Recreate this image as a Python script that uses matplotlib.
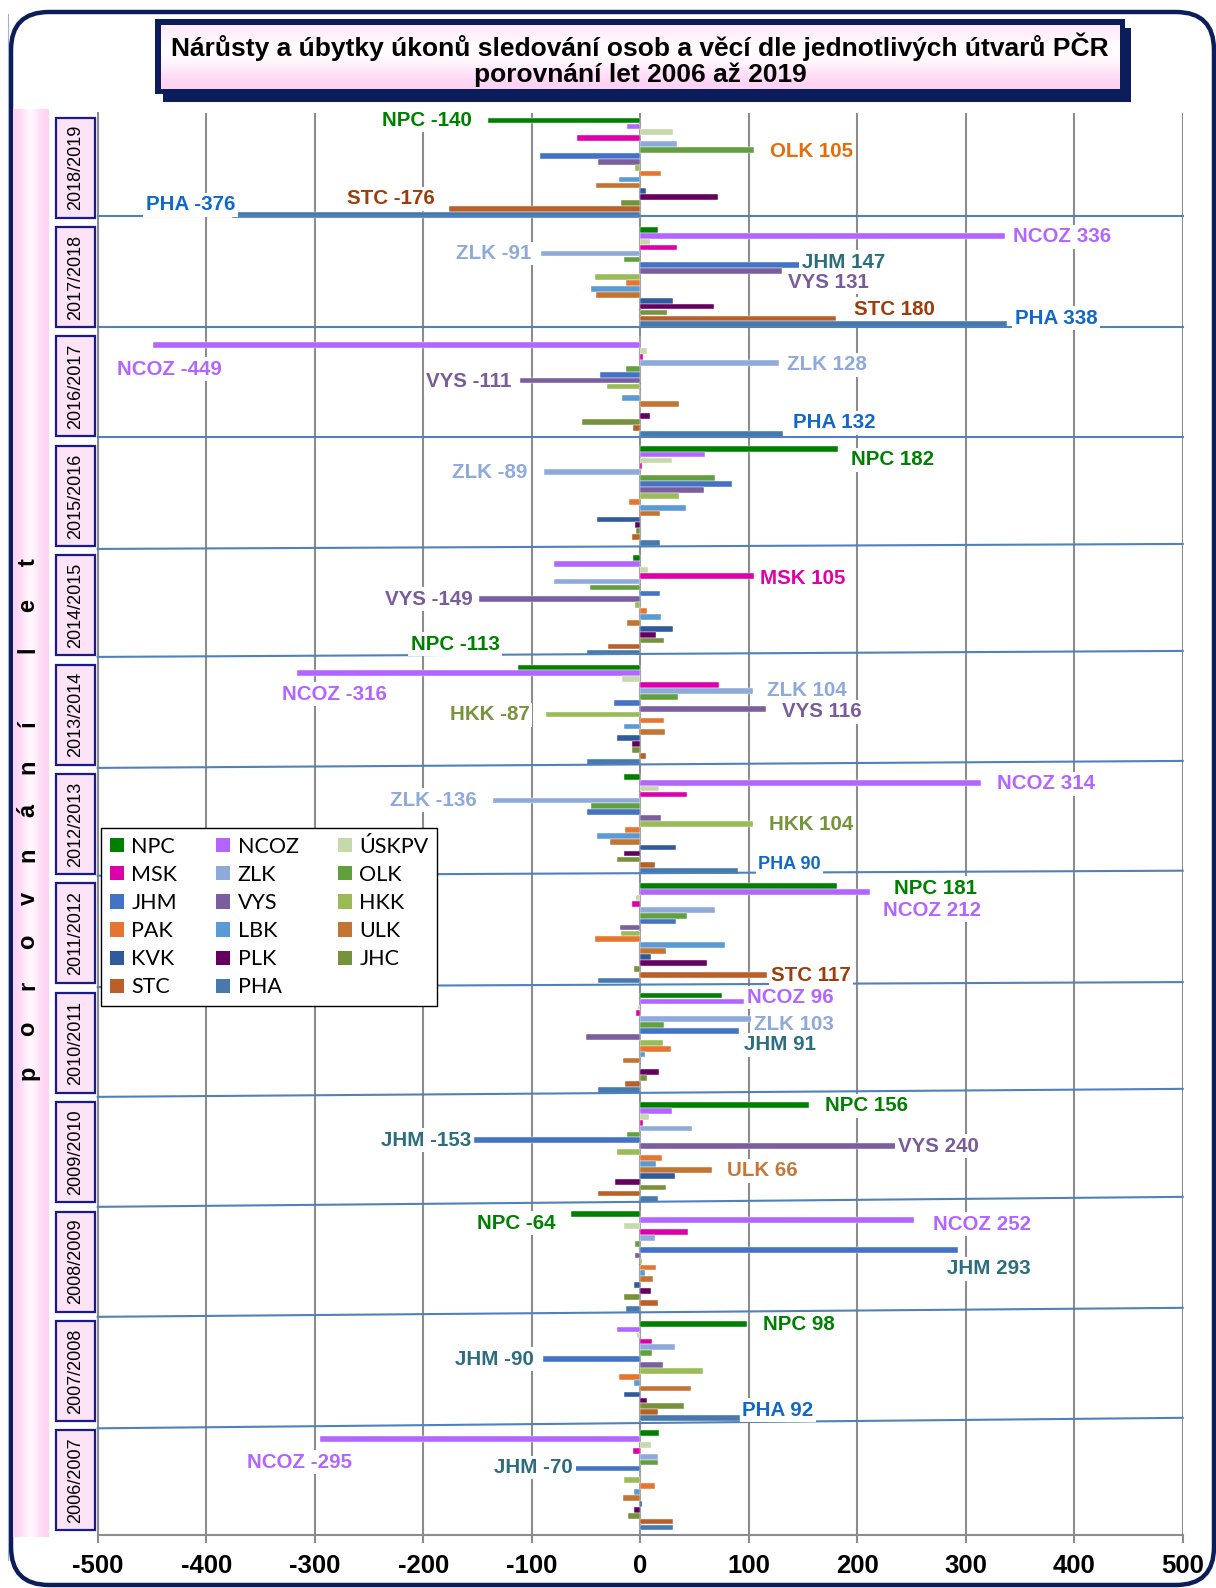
# ==========================================================
# NARUSTY A UBYTKY UKONU SLEDOVANI - UTVARY PCR 2006-2019
# ==========================================================

import numpy as np
import matplotlib.pyplot as plt
from matplotlib.patches import Rectangle, FancyBboxPatch

plt.rcParams["axes.unicode_minus"] = False

# ==========================================================
# DATA
# ==========================================================

years = [
    "2006/2007", "2007/2008", "2008/2009", "2009/2010", "2010/2011",
    "2011/2012", "2012/2013", "2013/2014", "2014/2015", "2015/2016",
    "2016/2017", "2017/2018", "2018/2019"
]

units = [
    "NPC", "NCOZ", "ÚSKPV", "MSK", "ZLK", "OLK", "JHM", "VYS", "HKK",
    "PAK", "LBK", "ULK", "KVK", "PLK", "JHC", "STC", "PHA"
]

npc = [17, 98, -64, 156, 75, 181, -15, -113, -7, 182, 0, 16, -140]
ncoz = [-295, -21, 252, 29, 96, 212, 314, -316, -79, 60, -449, 336, -12]
uskpv = [10, -3, -15, 8, -2, -4, 17, -17, 7, 29, 6, 9, 30]
msk = [-7, 11, 44, 3, -4, -8, 43, 73, 105, 2, 3, 34, -58]
zlk = [16, 32, 14, 48, 103, 69, -136, 104, -79, -89, 128, -91, 34]
olk = [16, 11, -5, -12, 22, 43, -45, 35, -46, 69, -13, -15, 105]
jhm = [-60, -90, 293, -153, 91, 33, -49, -24, 18, 85, -37, 147, -92]
vys = [0, 21, -5, 240, -50, -19, 19, 116, -149, 59, -111, 131, -39]
hkk = [-15, 58, 2, -21, 21, -18, 104, -87, -5, 36, -31, -42, -5]
pak = [14, -20, 15, 20, 28, -42, -14, 22, 6, -10, -1, -13, 19]
lbk = [-6, -6, 4, 15, 4, 78, -40, -15, 19, 42, -17, -45, -20]
ulk = [-16, 47, 12, 66, -16, 24, -28, 23, -12, 18, 36, -41, -41]
kvk = [2, -15, -6, 32, 0, 10, 33, -21, 30, -40, 0, 30, 5]
plk = [-6, 6, 10, -23, 17, 62, -15, -8, 15, -5, 9, 68, 72]
jhc = [-11, 40, -15, 24, 6, -6, -21, -8, 22, -4, -54, 25, -18]
stc = [30, 16, 16, -39, -14, 117, 14, 5, -30, -8, -7, 180, -176]
pha = [30, 92, -13, 16, -39, -39, 90, -49, -49, 18, 132, 338, -376]

series = [npc, ncoz, uskpv, msk, zlk, olk, jhm, vys, hkk,
          pak, lbk, ulk, kvk, plk, jhc, stc, pha]

# data labels (year, unit, text)
label_years = [
    "2018/2019", "2018/2019", "2018/2019", "2018/2019",
    "2017/2018", "2017/2018", "2017/2018", "2017/2018", "2017/2018", "2017/2018",
    "2016/2017", "2016/2017", "2016/2017", "2016/2017",
    "2015/2016", "2015/2016",
    "2014/2015", "2014/2015",
    "2013/2014", "2013/2014", "2013/2014", "2013/2014", "2013/2014",
    "2012/2013", "2012/2013", "2012/2013", "2012/2013",
    "2011/2012", "2011/2012", "2011/2012",
    "2010/2011", "2010/2011", "2010/2011",
    "2009/2010", "2009/2010", "2009/2010", "2009/2010",
    "2008/2009", "2008/2009", "2008/2009",
    "2007/2008", "2007/2008", "2007/2008",
    "2006/2007", "2006/2007"
]
label_units = [
    "NPC", "OLK", "PHA", "STC",
    "NCOZ", "ZLK", "JHM", "VYS", "STC", "PHA",
    "NCOZ", "ZLK", "VYS", "PHA",
    "NPC", "ZLK",
    "MSK", "VYS",
    "NPC", "NCOZ", "ZLK", "HKK", "VYS",
    "NCOZ", "ZLK", "HKK", "PHA",
    "NPC", "NCOZ", "STC",
    "NCOZ", "ZLK", "JHM",
    "NPC", "JHM", "VYS", "ULK",
    "NPC", "NCOZ", "JHM",
    "NPC", "JHM", "PHA",
    "NCOZ", "JHM"
]
label_texts = [
    "NPC -140", "OLK 105", "PHA -376", "STC -176",
    "NCOZ 336", "ZLK -91", "JHM 147", "VYS 131", "STC 180", "PHA 338",
    "NCOZ -449", "ZLK 128", "VYS -111", "PHA 132",
    "NPC 182", "ZLK -89",
    "MSK 105", "VYS -149",
    "NPC -113", "NCOZ -316", "ZLK 104", "HKK -87", "VYS 116",
    "NCOZ 314", "ZLK -136", "HKK 104", "PHA 90",
    "NPC 181", "NCOZ 212", "STC 117",
    "NCOZ 96", "ZLK 103", "JHM 91",
    "NPC 156", "JHM -153", "VYS 240", "ULK 66",
    "NPC -64", "NCOZ 252", "JHM 293",
    "NPC 98", "JHM -90", "PHA 92",
    "NCOZ -295", "JHM -70"
]

# ==========================================================
# STYLE
# ==========================================================

unit_colors = [
    "#008000", "#B266FF", "#C6D9AA", "#DD00AA", "#8EAADB", "#62A03E",
    "#4472C4", "#7B5E9D", "#9BBB59", "#E5762F", "#5B9BD5", "#C27433",
    "#305A9C", "#65005F", "#76923C", "#B9602A", "#4779AD"
]

label_colors = {
    "NPC": "#008000", "NCOZ": "#B266FF", "ZLK": "#8EAADB", "JHM": "#2C6E7F",
    "VYS": "#7A5C9B", "STC": "#9E3D0B", "PHA": "#1268C8", "OLK": "#E46C0A",
    "MSK": "#E000A8", "HKK": "#77933C", "ULK": "#C5773A"
}

# label offsets from bar end in pixels (dx, dy down) and alignment
label_dx = [-16, 16, 3, -14, 8, -10, 2, 6, 18, 8, 16, 8, -8, 10, 13, -16,
            6, -6, -18, 37, 14, -16, 16, 16, -16, 16, 20, 57, 13, 4,
            3, 2, 5, 16, -3, -3, 15, -15, 19, -11, 16, -9, 2, -21, -2]
label_dy = [0, 2, -10, -10, 1, 0, -3, 11, -9, -6, 24, 2, 1, -11, 11, 0,
            3, 0, -23, 21, -1, 0, 3, 1, 0, 1, -7, 2, 18, 1,
            -4, 5, 14, 1, 0, 0, 1, 9, 4, 19, 1, 0, -8, 23, -1]
label_ha = ["right", "left", "right", "right", "left", "right", "left", "left",
            "left", "left", "center", "left", "right", "left", "left", "right",
            "left", "right", "right", "center", "left", "right", "left", "left",
            "right", "left", "left", "left", "left", "left", "left", "left",
            "left", "left", "right", "left", "left", "right", "left", "left",
            "left", "right", "left", "center", "right"]

# separators drawn between periods (pixel shift at left / right end)
sep_left = [-6.4, -4.8, -3.7, -1.6, -3, -1.4, -3, -1, -0.6, 0, 0.6, 2.7]
sep_right = [-6.4, -4.8, -3.7, -6.6, -9, -8.4, -8, -6, -8.6, -10, -8.4, -7.8]

W, H = 1216, 1588
AX_L, AX_R, AX_T, AX_B = 97.7, 1182.7, 113, 1535
GROUP_PX = (AX_B - AX_T) / len(years)
PITCH = 5.9 / GROUP_PX

NAVY = "#0B1E5B"
FONT = "Liberation Sans"

# ==========================================================
# FIGURE + BACKGROUND DECORATION
# ==========================================================

fig = plt.figure(figsize=(W / 100, H / 100), dpi=100)
fig.patch.set_facecolor("white")

bg = fig.add_axes([0, 0, 1, 1])
bg.set_xlim(0, W)
bg.set_ylim(H, 0)
bg.axis("off")
bg.set_zorder(0)

# outer rounded frame
bg.plot([8, 8], [14, 1560], color="#A8AECF", lw=0.8)
bg.add_patch(FancyBboxPatch(
    (11, 12), 1203, 1573,
    boxstyle="round,pad=0,rounding_size=38",
    fc="none", ec=NAVY, lw=3.2
))

# pink band on the left
band = np.array([[0.0, 0.35, 0.85, 0.35, 0.0]])
pink_cmap = plt.matplotlib.colors.LinearSegmentedColormap.from_list(
    "pk", ["#FFD2F4", "#FFFFFF"]
)
bg.imshow(band, cmap=pink_cmap, aspect="auto",
          extent=(13, 49, 1537, 109), interpolation="bicubic", zorder=1)

# "porovnani let" vertical text
letters = list("porovnání") + [""] + list("let")
y_letter = 1073
for ch in letters:
    if ch:
        bg.text(28, y_letter, ch, rotation=90, ha="center", va="center",
                fontsize=17, fontweight="bold", family=FONT, zorder=3)
        y_letter -= 43.7
    else:
        y_letter -= 30

# title box
bg.add_patch(Rectangle((163, 28), 968, 74, fc=NAVY, ec="none", zorder=2))
bg.add_patch(Rectangle((155, 19), 970, 75, fc=NAVY, ec="none", zorder=3))
title_grad = np.array([[0.55], [0.85], [1.0], [0.8], [0.35], [0.0]])
bg.imshow(title_grad, cmap=pink_cmap, aspect="auto",
          extent=(161, 1120, 89, 25), interpolation="bicubic", zorder=4)
bg.text(640, 60,
        "Nárůsty a úbytky úkonů sledování osob a věcí dle jednotlivých útvarů PČR\n"
        "porovnání let 2006 až 2019",
        ha="center", va="center", fontsize=19, fontweight="bold",
        family=FONT, linespacing=1.08, zorder=5)

# year boxes
for c, year in enumerate(years):
    i = len(years) - 1 - c
    yc = AX_T + (i + 0.5) * GROUP_PX
    bg.add_patch(Rectangle((56, yc - 50), 39, 100, fc="#FCE3F6",
                           ec="#1A1A8C", lw=1.6, zorder=3))
    bg.text(75.5, yc, year, rotation=90, ha="center", va="center",
            fontsize=13, family=FONT, zorder=4)

# ==========================================================
# MAIN AXES
# ==========================================================

ax = fig.add_axes([AX_L / W, 1 - AX_B / H, (AX_R - AX_L) / W,
                   (AX_B - AX_T) / H])
ax.set_zorder(2)
ax.patch.set_alpha(0)

ax.set_xlim(-500, 500)
ax.set_ylim(len(years), 0)

ax.set_xticks(np.arange(-500, 501, 100))
ax.set_yticks([])
ax.grid(axis="x", color="#8C8C8C", lw=1.5, zorder=0)
ax.set_axisbelow(True)

for s in ["top", "right"]:
    ax.spines[s].set_visible(False)
for s in ["left", "bottom"]:
    ax.spines[s].set_color("#8C8C8C")
    ax.spines[s].set_linewidth(1.5)

ax.tick_params(axis="x", length=6, width=1.5, color="#8C8C8C", pad=8)
for lab in ax.get_xticklabels():
    lab.set_fontsize(18.5)
    lab.set_fontweight("bold")
    lab.set_family(FONT)

# bars
bar_y = {}
for j, (unit, vals) in enumerate(zip(units, series)):
    ys = []
    for c in range(len(years)):
        i = len(years) - 1 - c
        ys.append(i + 0.5 + (j - 8) * PITCH)
    bar_y[unit] = ys
    ax.barh(ys, vals, height=PITCH * 0.97, color=unit_colors[j],
            edgecolor="white", linewidth=0.3, zorder=3, label=unit)

# separators
for k in range(1, len(years)):
    yl = k + sep_left[k - 1] / GROUP_PX
    yr = k + sep_right[k - 1] / GROUP_PX
    ax.plot([-500, 500], [yl, yr], color="#4F81BD", lw=1.5, zorder=4,
            clip_on=False)

# data labels
for n, text in enumerate(label_texts):
    c = years.index(label_years[n])
    j = units.index(label_units[n])
    v = series[j][c]
    yb = bar_y[label_units[n]][c]
    fs = 13 if text == "PHA 90" else 14.8
    ax.annotate(
        text, xy=(v, yb),
        xytext=(label_dx[n] * 0.72, -label_dy[n] * 0.72),
        textcoords="offset points",
        ha=label_ha[n], va="center",
        fontsize=fs, fontweight="bold", family=FONT,
        color=label_colors[label_units[n]], zorder=6,
        bbox=dict(boxstyle="square,pad=0.12", fc="white", ec="none")
    )

# legend (row-wise order like the original)
handles, labels = ax.get_legend_handles_labels()
order = list(range(0, 17, 3)) + list(range(1, 17, 3)) + list(range(2, 17, 3))
leg = ax.legend(
    [handles[o] for o in order], [labels[o] for o in order],
    ncol=3, loc="upper left", bbox_to_anchor=(0.003, 0.4972),
    borderaxespad=0, frameon=True, fancybox=False, framealpha=1,
    edgecolor="black", handlelength=0.66, handleheight=0.66,
    handletextpad=0.35, columnspacing=1.8, labelspacing=0.38,
    prop={"family": "Lato", "size": 15.5}
)
leg.get_frame().set_linewidth(1.0)
leg.set_zorder(10)
for h in leg.legend_handles:
    h.set_edgecolor("none")

fig.savefig("out.png", dpi=100)
